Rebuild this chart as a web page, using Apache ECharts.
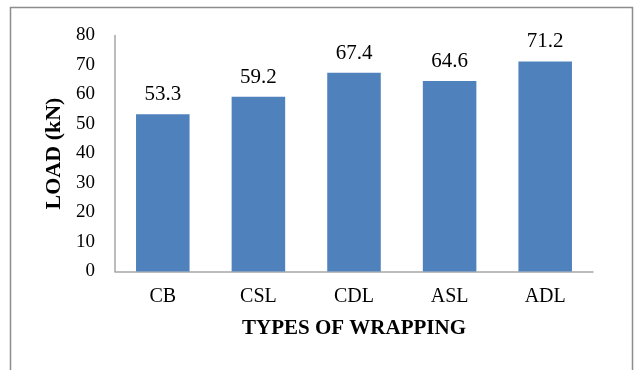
<!DOCTYPE html>
<html>
<head>
<meta charset="utf-8">
<script src="https://cdn.jsdelivr.net/npm/echarts@6/dist/echarts.min.js"></script>
<style>
  html, body { margin: 0; padding: 0; background: #fff; }
  #chart { width: 634px; height: 370px; }
</style>
</head>
<body>
<div id="chart"></div>
<script>
// Peak load for each wrapping scheme
const categories = ['CB', 'CSL', 'CDL', 'ASL', 'ADL'];
const loads = [53.3, 59.2, 67.4, 64.6, 71.2];
const yTicks = [0, 10, 20, 30, 40, 50, 60, 70, 80];

const serif = '"Liberation Serif", "Times New Roman", serif';
const chart = echarts.init(document.getElementById('chart'));

chart.setOption({
  animation: false,
  backgroundColor: '#ffffff',
  graphic: [{
    type: 'rect',
    shape: { x: 10.5, y: 7.5, width: 622, height: 380 },
    style: { fill: 'none', stroke: '#8c8c8c', lineWidth: 1.5 },
    silent: true
  }],
  grid: { left: 115, right: 41, top: 35.5, bottom: 98.5 },
  xAxis: {
    type: 'category',
    data: categories,
    name: 'TYPES OF WRAPPING',
    nameLocation: 'middle',
    nameGap: 47,
    nameTextStyle: { fontFamily: serif, fontSize: 21, fontWeight: 'bold', color: '#000' },
    axisLine: { lineStyle: { color: '#a6a6a6', width: 1.5 } },
    axisTick: { show: false },
    axisLabel: { fontFamily: serif, fontSize: 20, color: '#000', margin: 15 }
  },
  yAxis: {
    type: 'value',
    min: yTicks[0],
    max: yTicks[yTicks.length - 1],
    interval: yTicks[1] - yTicks[0],
    name: 'LOAD (kN)',
    nameLocation: 'middle',
    nameGap: 49,
    nameTextStyle: { fontFamily: serif, fontSize: 22, fontWeight: 'bold', color: '#000' },
    axisLine: { show: true, lineStyle: { color: '#a6a6a6', width: 1.5 } },
    axisTick: { show: false },
    splitLine: { show: false },
    axisLabel: { fontFamily: serif, fontSize: 19, color: '#000', margin: 20 }
  },
  series: [{
    type: 'bar',
    data: loads,
    barWidth: '56%',
    itemStyle: { color: '#4f81bd' },
    label: {
      show: true,
      position: 'top',
      distance: 9,
      fontFamily: serif,
      fontSize: 21,
      color: '#000',
      formatter: p => p.value.toFixed(1)
    }
  }]
});
</script>
</body>
</html>
